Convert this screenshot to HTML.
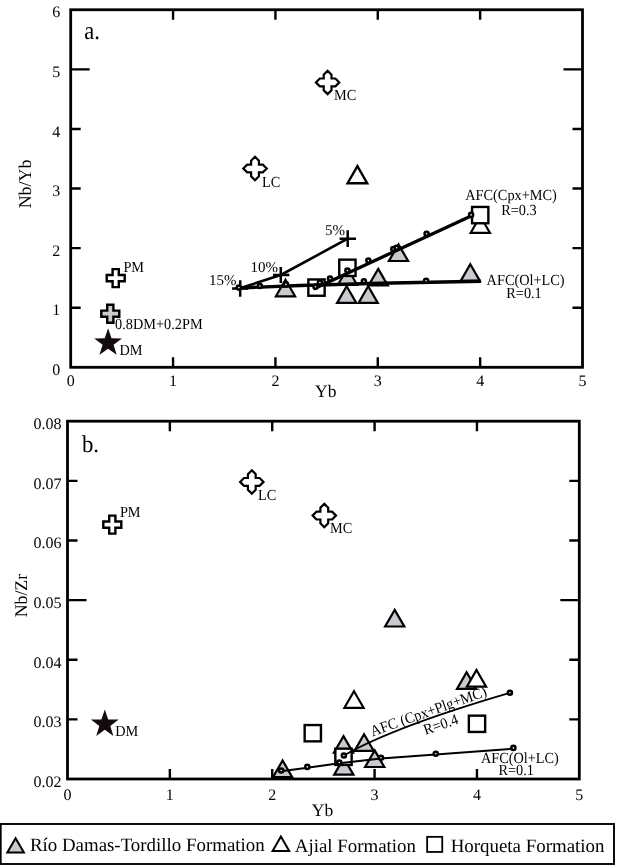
<!DOCTYPE html>
<html><head><meta charset="utf-8"><style>
html,body{margin:0;padding:0;background:#fff;}
svg{display:block;will-change:transform;}
text{font-family:"Liberation Serif",serif;fill:#000;text-rendering:geometricPrecision;}
</style></head><body>
<svg width="619" height="868" viewBox="0 0 619 868">
<rect width="619" height="868" fill="#fff"/>
<rect x="70.7" y="9.75" width="511.8" height="357.55" fill="none" stroke="#000" stroke-width="2.8" stroke-linejoin="miter"/>
<path d="M173.06 9.75V19.75M173.06 367.3V357.3M275.42 9.75V19.75M275.42 367.3V357.3M377.78 9.75V19.75M377.78 367.3V357.3M480.14 9.75V19.75M480.14 367.3V357.3M70.7 307.71H80.7M582.5 307.71H572.5M70.7 248.12H80.7M582.5 248.12H572.5M70.7 188.53H80.7M582.5 188.53H572.5M70.7 128.94H80.7M582.5 128.94H572.5M70.7 69.35H89.7M582.5 69.35H563.5" stroke="#000" stroke-width="2.4" fill="none"/>
<text x="60.3" y="374.9" font-size="16" text-anchor="end" >0</text>
<text x="60.3" y="315.31" font-size="16" text-anchor="end" >1</text>
<text x="60.3" y="255.72" font-size="16" text-anchor="end" >2</text>
<text x="60.3" y="196.13" font-size="16" text-anchor="end" >3</text>
<text x="60.3" y="136.54" font-size="16" text-anchor="end" >4</text>
<text x="60.3" y="76.95" font-size="16" text-anchor="end" >5</text>
<text x="60.3" y="17.36" font-size="16" text-anchor="end" >6</text>
<text x="70.7" y="385.5" font-size="16" text-anchor="middle" >0</text>
<text x="173.06" y="385.5" font-size="16" text-anchor="middle" >1</text>
<text x="275.42" y="385.5" font-size="16" text-anchor="middle" >2</text>
<text x="377.78" y="385.5" font-size="16" text-anchor="middle" >3</text>
<text x="480.14" y="385.5" font-size="16" text-anchor="middle" >4</text>
<text x="582.5" y="385.5" font-size="16" text-anchor="middle" >5</text>
<text x="325.7" y="396.5" font-size="17.5" text-anchor="middle" >Yb</text>
<text x="0" y="0" font-size="17.9" text-anchor="middle" transform="translate(31.2,184) rotate(-90)">Nb/Yb</text>
<text x="0" y="0" font-size="24" text-anchor="start" transform="translate(84.3,38.6) scale(0.94,1.07)" >a.</text>
<polygon points="357.4,166.21 367.2,183.19 347.6,183.19" fill="#fff" stroke="#000" stroke-width="2.4" stroke-linejoin="miter"/>
<polygon points="480.3,216.19 489.9,232.81 470.7,232.81" fill="#fff" stroke="#000" stroke-width="2.2" stroke-linejoin="miter"/>
<rect x="472.05" y="206.95" width="16.3" height="16.3" fill="#fff" stroke="#000" stroke-width="2.4"/>
<polygon points="285.5,279.69 295.1,296.31 275.9,296.31" fill="#c9c9ce" stroke="#000" stroke-width="2.2" stroke-linejoin="miter"/>
<polygon points="347.5,268.19 357.1,284.81 337.9,284.81" fill="#c9c9ce" stroke="#000" stroke-width="2.2" stroke-linejoin="miter"/>
<rect x="339.25" y="259.65" width="16.3" height="16.3" fill="#fff" stroke="#000" stroke-width="2.4"/>
<rect x="308.35" y="279.45" width="16.3" height="16.3" fill="#fff" stroke="#000" stroke-width="2.4"/>
<polygon points="346.7,286.29 356.3,302.91 337.1,302.91" fill="#c9c9ce" stroke="#000" stroke-width="2.2" stroke-linejoin="miter"/>
<polygon points="368.2,286.29 377.8,302.91 358.6,302.91" fill="#c9c9ce" stroke="#000" stroke-width="2.2" stroke-linejoin="miter"/>
<polygon points="378.2,268.89 387.8,285.51 368.6,285.51" fill="#c9c9ce" stroke="#000" stroke-width="2.2" stroke-linejoin="miter"/>
<polygon points="398.5,244.39 408.1,261.01 388.9,261.01" fill="#c9c9ce" stroke="#000" stroke-width="2.2" stroke-linejoin="miter"/>
<polygon points="470.3,264.29 479.9,280.91 460.7,280.91" fill="#c9c9ce" stroke="#000" stroke-width="2.2" stroke-linejoin="miter"/>
<polyline points="240,288.2 280.8,275 347.7,238.7" fill="none" stroke="#000" stroke-width="2.6" stroke-linejoin="round"/>
<path d="M240.2 280.2V296.8M232.1 288.5H248.2" stroke="#000" stroke-width="2.5" fill="none"/>
<path d="M280.8 266.9V283.1M273 275H289.4" stroke="#000" stroke-width="2.5" fill="none"/>
<path d="M347.7 230.3V247.1M339.6 238.7H356" stroke="#000" stroke-width="2.5" fill="none"/>
<polyline points="239,288 300,285.5 380,283.3 481,281.3" fill="none" stroke="#000" stroke-width="3.4" stroke-linejoin="round"/>
<polyline points="313.5,289 471.1,215.9" fill="none" stroke="#000" stroke-width="3.3" stroke-linejoin="round"/>
<circle cx="238.9" cy="287.6" r="2.05" fill="#fff" stroke="#000" stroke-width="2.5"/>
<circle cx="259.9" cy="286" r="2.05" fill="#fff" stroke="#000" stroke-width="2.5"/>
<circle cx="286" cy="284.4" r="2.05" fill="#fff" stroke="#000" stroke-width="2.5"/>
<circle cx="363.9" cy="281.2" r="2.05" fill="#fff" stroke="#000" stroke-width="2.5"/>
<circle cx="426.1" cy="280.8" r="2.05" fill="#fff" stroke="#000" stroke-width="2.5"/>
<circle cx="315.5" cy="286.8" r="2.05" fill="#fff" stroke="#000" stroke-width="2.5"/>
<circle cx="319.9" cy="282.5" r="2.05" fill="#fff" stroke="#000" stroke-width="2.5"/>
<circle cx="330" cy="278.6" r="2.05" fill="#fff" stroke="#000" stroke-width="2.5"/>
<circle cx="347.4" cy="270.5" r="2.05" fill="#fff" stroke="#000" stroke-width="2.5"/>
<circle cx="368.4" cy="260.6" r="2.05" fill="#fff" stroke="#000" stroke-width="2.5"/>
<circle cx="393.3" cy="249" r="2.05" fill="#fff" stroke="#000" stroke-width="2.5"/>
<circle cx="396.6" cy="247.7" r="2.05" fill="#fff" stroke="#000" stroke-width="2.5"/>
<circle cx="426.6" cy="233.8" r="2.05" fill="#fff" stroke="#000" stroke-width="2.5"/>
<circle cx="471.1" cy="214.9" r="2.05" fill="#fff" stroke="#000" stroke-width="2.5"/>
<polygon points="327.6,70.7 331.5,74.6 331.5,78.5 335.4,78.5 339.3,82.4 335.4,86.3 331.5,86.3 331.5,90.2 327.6,94.1 323.7,90.2 323.7,86.3 319.8,86.3 315.9,82.4 319.8,78.5 323.7,78.5 323.7,74.6" fill="#fff" stroke="#000" stroke-width="2.2" stroke-linejoin="miter"/>
<polygon points="255,156.8 258.9,160.7 258.9,164.6 262.8,164.6 266.7,168.5 262.8,172.4 258.9,172.4 258.9,176.3 255,180.2 251.1,176.3 251.1,172.4 247.2,172.4 243.3,168.5 247.2,164.6 251.1,164.6 251.1,160.7" fill="#fff" stroke="#000" stroke-width="2.2" stroke-linejoin="miter"/>
<polygon points="112.6,269.1 118.8,269.1 118.8,275 124.7,275 124.7,281.2 118.8,281.2 118.8,287.1 112.6,287.1 112.6,281.2 106.7,281.2 106.7,275 112.6,275" fill="#fff" stroke="#000" stroke-width="2.4" stroke-linejoin="miter"/>
<polygon points="107.2,304.7 113.4,304.7 113.4,310.6 119.3,310.6 119.3,316.8 113.4,316.8 113.4,322.7 107.2,322.7 107.2,316.8 101.3,316.8 101.3,310.6 107.2,310.6" fill="#c9c9ce" stroke="#000" stroke-width="2.4" stroke-linejoin="miter"/>
<polygon points="108.1,328.3 111.49,338.23 121.99,338.39 113.58,344.68 116.68,354.71 108.1,348.67 99.52,354.71 102.62,344.68 94.21,338.39 104.71,338.23" fill="#140c0c"/>
<text x="0" y="0" font-size="14.3" text-anchor="start" transform="translate(334.1,99.7) scale(1.0,1.08)" >MC</text>
<text x="0" y="0" font-size="14.3" text-anchor="start" transform="translate(262.1,186.9) scale(1.0,1.08)" >LC</text>
<text x="0" y="0" font-size="14.3" text-anchor="start" transform="translate(123.4,271.5) scale(1.0,1.08)" >PM</text>
<text x="0" y="0" font-size="14.3" text-anchor="start" transform="translate(115.1,328.7) scale(1.0,1.08)" >0.8DM+0.2PM</text>
<text x="0" y="0" font-size="14.3" text-anchor="start" transform="translate(119.5,354.7) scale(1.0,1.08)" >DM</text>
<text x="209" y="284.5" font-size="15" text-anchor="start" >15%</text>
<text x="250.6" y="271.5" font-size="15" text-anchor="start" >10%</text>
<text x="324.9" y="235" font-size="15" text-anchor="start" >5%</text>
<text x="0" y="0" font-size="14.3" text-anchor="start" transform="translate(465.3,200) scale(1.0,1.08)" >AFC(Cpx+MC)</text>
<text x="0" y="0" font-size="14.3" text-anchor="start" transform="translate(501.2,214.7) scale(1.0,1.08)" >R=0.3</text>
<text x="0" y="0" font-size="14.3" text-anchor="start" transform="translate(486.6,284.5) scale(1.0,1.08)" >AFC(Ol+LC)</text>
<text x="0" y="0" font-size="14.3" text-anchor="start" transform="translate(506.3,298) scale(1.0,1.08)" >R=0.1</text>
<rect x="67.5" y="421.2" width="511.8" height="357.8" fill="none" stroke="#000" stroke-width="2.8" stroke-linejoin="miter"/>
<path d="M169.86 421.2V431.2M169.86 779V769M272.22 421.2V431.2M272.22 779V769M374.58 421.2V431.2M374.58 779V769M476.94 421.2V431.2M476.94 779V769M67.5 719.37H77.5M579.3 719.37H569.3M67.5 659.74H77.5M579.3 659.74H569.3M67.5 600.11H86.5M579.3 600.11H560.3M67.5 540.48H77.5M579.3 540.48H569.3M67.5 480.85H77.5M579.3 480.85H569.3" stroke="#000" stroke-width="2.4" fill="none"/>
<text x="61.5" y="787" font-size="16" text-anchor="end" >0.02</text>
<text x="61.5" y="727.37" font-size="16" text-anchor="end" >0.03</text>
<text x="61.5" y="667.74" font-size="16" text-anchor="end" >0.04</text>
<text x="61.5" y="608.11" font-size="16" text-anchor="end" >0.05</text>
<text x="61.5" y="548.48" font-size="16" text-anchor="end" >0.06</text>
<text x="61.5" y="488.85" font-size="16" text-anchor="end" >0.07</text>
<text x="61.5" y="429.22" font-size="16" text-anchor="end" >0.08</text>
<text x="67.5" y="799.8" font-size="16" text-anchor="middle" >0</text>
<text x="169.86" y="799.8" font-size="16" text-anchor="middle" >1</text>
<text x="272.22" y="799.8" font-size="16" text-anchor="middle" >2</text>
<text x="374.58" y="799.8" font-size="16" text-anchor="middle" >3</text>
<text x="476.94" y="799.8" font-size="16" text-anchor="middle" >4</text>
<text x="579.3" y="799.8" font-size="16" text-anchor="middle" >5</text>
<text x="322.5" y="815.8" font-size="17.5" text-anchor="middle" >Yb</text>
<text x="0" y="0" font-size="17.8" text-anchor="middle" transform="translate(26.8,595.6) rotate(-90)">Nb/Zr</text>
<text x="0" y="0" font-size="24" text-anchor="start" transform="translate(81.9,451.6) scale(0.95,1.0)" >b.</text>
<polygon points="394.7,609.89 404.3,626.51 385.1,626.51" fill="#c9c9ce" stroke="#000" stroke-width="2.2" stroke-linejoin="miter"/>
<polygon points="466.6,672.29 476.2,688.91 457,688.91" fill="#c9c9ce" stroke="#000" stroke-width="2.2" stroke-linejoin="miter"/>
<polygon points="476.5,669.99 486.1,686.61 466.9,686.61" fill="#fff" stroke="#000" stroke-width="2.2" stroke-linejoin="miter"/>
<polygon points="354,691.19 363.6,707.81 344.4,707.81" fill="#fff" stroke="#000" stroke-width="2.2" stroke-linejoin="miter"/>
<rect x="304.65" y="725.05" width="16.3" height="16.3" fill="#fff" stroke="#000" stroke-width="2.4"/>
<rect x="468.85" y="715.65" width="16.3" height="16.3" fill="#fff" stroke="#000" stroke-width="2.4"/>
<polygon points="343.5,736.09 353.1,752.71 333.9,752.71" fill="#c9c9ce" stroke="#000" stroke-width="2.2" stroke-linejoin="miter"/>
<polygon points="364.1,734.29 373.7,750.91 354.5,750.91" fill="#c9c9ce" stroke="#000" stroke-width="2.2" stroke-linejoin="miter"/>
<polygon points="343.8,757.99 353.4,774.61 334.2,774.61" fill="#c9c9ce" stroke="#000" stroke-width="2.2" stroke-linejoin="miter"/>
<rect x="335.35" y="748.65" width="16.3" height="16.3" fill="#fff" stroke="#000" stroke-width="2.4"/>
<polygon points="374.7,750.39 384.3,767.01 365.1,767.01" fill="#c9c9ce" stroke="#000" stroke-width="2.2" stroke-linejoin="miter"/>
<polygon points="282.6,760.49 292.2,777.11 273,777.11" fill="#c9c9ce" stroke="#000" stroke-width="2.2" stroke-linejoin="miter"/>
<polyline points="281.2,771.3 307.3,767.7 339.3,763.3 381,758.5 435.8,754.5 513.4,748.7" fill="none" stroke="#000" stroke-width="2.0" stroke-linejoin="round"/>
<path d="M343.9 755.5 Q 394.4 726.6 509.8 692.9" fill="none" stroke="#000" stroke-width="1.9"/>
<circle cx="281.2" cy="770.5" r="2.05" fill="#fff" stroke="#000" stroke-width="2.5"/>
<circle cx="307.3" cy="766.9" r="2.05" fill="#fff" stroke="#000" stroke-width="2.5"/>
<circle cx="339.3" cy="762.5" r="2.05" fill="#fff" stroke="#000" stroke-width="2.5"/>
<circle cx="381" cy="757.7" r="2.05" fill="#fff" stroke="#000" stroke-width="2.5"/>
<circle cx="435.8" cy="753.7" r="2.05" fill="#fff" stroke="#000" stroke-width="2.5"/>
<circle cx="513.4" cy="747.9" r="2.05" fill="#fff" stroke="#000" stroke-width="2.5"/>
<circle cx="343.9" cy="755.5" r="2.05" fill="#fff" stroke="#000" stroke-width="2.5"/>
<circle cx="509.9" cy="692.7" r="2.05" fill="#fff" stroke="#000" stroke-width="2.5"/>
<polygon points="251.8,470.2 255.7,474.1 255.7,478 259.6,478 263.5,481.9 259.6,485.8 255.7,485.8 255.7,489.7 251.8,493.6 247.9,489.7 247.9,485.8 244,485.8 240.1,481.9 244,478 247.9,478 247.9,474.1" fill="#fff" stroke="#000" stroke-width="2.2" stroke-linejoin="miter"/>
<polygon points="324.3,503.9 328.2,507.8 328.2,511.7 332.1,511.7 336,515.6 332.1,519.5 328.2,519.5 328.2,523.4 324.3,527.3 320.4,523.4 320.4,519.5 316.5,519.5 312.6,515.6 316.5,511.7 320.4,511.7 320.4,507.8" fill="#fff" stroke="#000" stroke-width="2.2" stroke-linejoin="miter"/>
<polygon points="109.2,515.6 115.4,515.6 115.4,521.5 121.3,521.5 121.3,527.7 115.4,527.7 115.4,533.6 109.2,533.6 109.2,527.7 103.3,527.7 103.3,521.5 109.2,521.5" fill="#fff" stroke="#000" stroke-width="2.4" stroke-linejoin="miter"/>
<polygon points="104.8,709.5 108.19,719.43 118.69,719.59 110.28,725.88 113.38,735.91 104.8,729.87 96.22,735.91 99.32,725.88 90.91,719.59 101.41,719.43" fill="#140c0c"/>
<text x="0" y="0" font-size="14.3" text-anchor="start" transform="translate(119.9,516.8) scale(1.0,1.08)" >PM</text>
<text x="0" y="0" font-size="14.3" text-anchor="start" transform="translate(258,500.3) scale(1.0,1.08)" >LC</text>
<text x="0" y="0" font-size="14.3" text-anchor="start" transform="translate(330,532.6) scale(1.0,1.08)" >MC</text>
<text x="0" y="0" font-size="14.3" text-anchor="start" transform="translate(115.3,736.3) scale(1.0,1.08)" >DM</text>
<text x="0" y="0" font-size="14.3" text-anchor="start" transform="translate(480.9,762.5) scale(1.0,1.08)" >AFC(Ol+LC)</text>
<text x="0" y="0" font-size="14.3" text-anchor="start" transform="translate(498.4,775.3) scale(1.0,1.08)" >R=0.1</text>
<text x="0" y="0" font-size="14.3" transform="translate(372.6,736.4) rotate(-19.5) scale(1,1.08)">AFC (Cpx+Plg+MC)</text>
<text x="0" y="0" font-size="14.3" transform="translate(425.6,735) rotate(-19) scale(1,1.08)">R=0.4</text>
<rect x="0.7" y="824" width="613.3" height="40" fill="none" stroke="#000" stroke-width="1.9"/>
<polygon points="15.6,838.21 23.9,852.59 7.3,852.59" fill="#c9c9ce" stroke="#000" stroke-width="2.0" stroke-linejoin="miter"/>
<text x="29.9" y="851" font-size="18.9" text-anchor="start" >Río Damas-Tordillo Formation</text>
<polygon points="280.9,836.51 289.2,850.89 272.6,850.89" fill="#fff" stroke="#000" stroke-width="2.0" stroke-linejoin="miter"/>
<text x="294.8" y="851.5" font-size="18.9" text-anchor="start" >Ajial Formation</text>
<rect x="427.15" y="836.85" width="15.1" height="15.1" fill="#fff" stroke="#000" stroke-width="1.8"/>
<text x="450.7" y="851.5" font-size="18.9" text-anchor="start" >Horqueta Formation</text>
</svg>
</body></html>
